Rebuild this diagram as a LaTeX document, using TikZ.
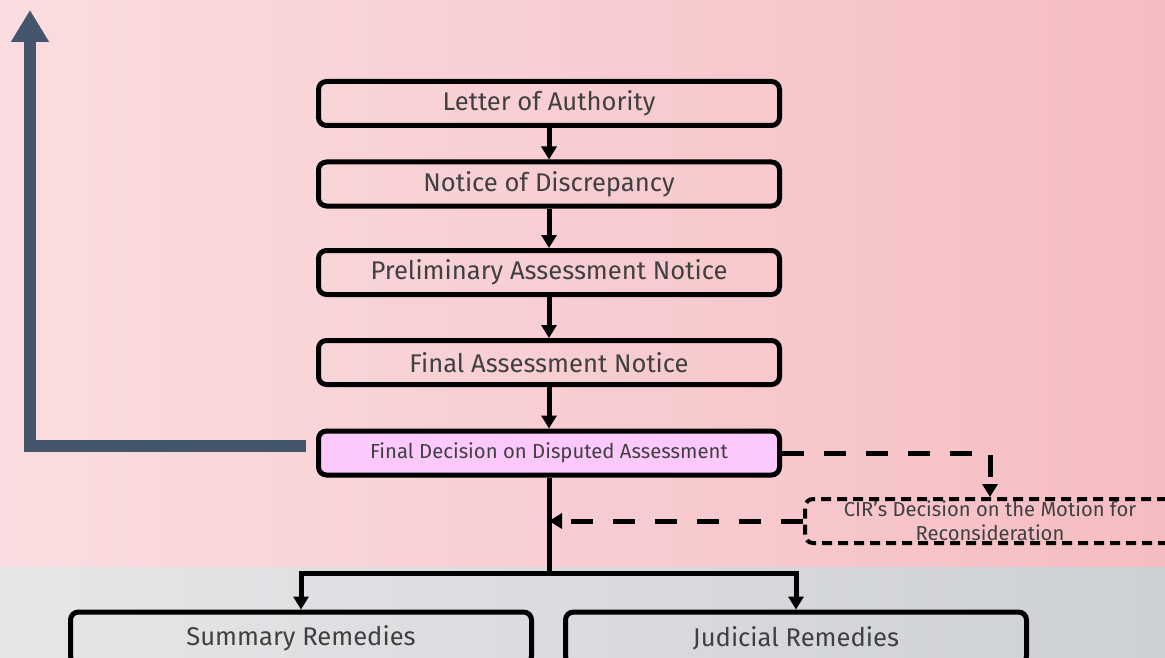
\documentclass[tikz,border=0pt]{standalone}
\usepackage{fontspec}
\setmainfont{Fira Sans}
\usetikzlibrary{arrows.meta}
\definecolor{bgpinkL}{HTML}{FADDE0}
\definecolor{bgpinkR}{HTML}{F5BDC2}
\definecolor{bggrayL}{HTML}{E6E6E8}
\definecolor{bggrayR}{HTML}{CDD0D4}
\definecolor{txt}{HTML}{404040}
\definecolor{decfill}{HTML}{FDC9FD}
\definecolor{slate}{HTML}{44546A}
\tikzset{
  x=1pt, y=-1pt,
  stepbox/.style={draw=black, line width=5pt, rounded corners=8pt,
    minimum width=461pt, minimum height=44pt, inner sep=0pt,
    text=txt, font=\fontsize{25.6}{28}\selectfont},
  link/.style={draw=black, line width=5pt, -{Triangle[width=15pt,length=13pt]}},
  dashlink/.style={link, dash pattern=on 22pt off 20pt},
  plainlink/.style={draw=black, line width=5pt},
  bigarrow/.style={draw=slate, line width=12pt, -{Triangle[width=36pt,length=32pt]}},
}
\begin{document}
\begin{tikzpicture}
\useasboundingbox (0,0) rectangle (1165,658);
\clip (0,0) rectangle (1165,658);
% background bands
\shade[left color=bgpinkL, right color=bgpinkR] (0,0) rectangle (1165,567);
\shade[left color=bggrayL, right color=bggrayR] (0,567) rectangle (1165,658);

% main chain
\node[stepbox] (loa) at (549,103.5) {Letter of Authority};
\node[stepbox] (nod) at (549,184) {Notice of Discrepancy};
\node[stepbox] (pan) at (549,272.5) {Preliminary Assessment Notice};
\node[stepbox] (fan) at (549,362.5) {Final Assessment Notice};
\node[stepbox, fill=decfill, font=\fontsize{20.3}{22}\selectfont] (fdda) at (549,453) {Final Decision on Disputed Assessment};

\draw[link] (loa) -- (nod);
\draw[link] (nod) -- (pan);
\draw[link] (pan) -- (fan);
\draw[link] (fan) -- (fdda);

% motion for reconsideration
\node[draw=black, line width=4pt, dash pattern=on 10pt off 6pt, rounded corners=8pt,
  minimum width=370pt, minimum height=44pt, inner sep=0pt, align=center,
  text=txt, font=\fontsize{20.2}{24}\selectfont] (cir) at (990,521)
  {CIR’s Decision on the Motion for\\Reconsideration};
\coordinate (dturn) at (990,453);
\draw[dashlink] (fdda.east) -- (dturn) -- (cir.north);

% trunk and branches to remedies
\coordinate (junc) at (549,573);
\coordinate (mrin) at (549,521);
\draw[plainlink] (fdda.south) -- (junc);
\draw[dashlink] (cir.west) -- (mrin);

\node[stepbox, minimum height=52pt] (sum) at (301,638) {Summary Remedies};
\node[stepbox, minimum height=52pt] (jud) at (796,638) {Judicial Remedies};
\draw[link] (junc) -| (sum.north);
\draw[link] (junc) -| (jud.north);

% large return arrow
\coordinate (bigstart) at (306,446);
\coordinate (bigend) at (30,10);
\draw[bigarrow] (bigstart) -| (bigend);
\end{tikzpicture}
\end{document}
